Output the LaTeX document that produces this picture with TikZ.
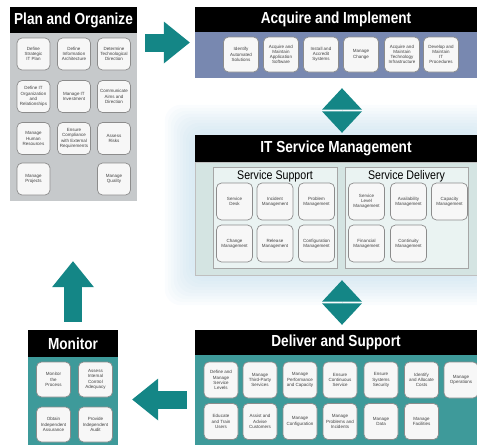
\documentclass[tikz,border=0pt]{standalone}
\usepackage{fontspec}
\setmainfont{Liberation Sans}
\newfontfamily\headfont[FakeStretch=0.85]{Liberation Sans}
\usetikzlibrary{arrows.meta,positioning,fit,calc,backgrounds}
\definecolor{flow}{RGB}{20,134,134}
\definecolor{slate}{RGB}{120,136,176}
\definecolor{dsteal}{RGB}{62,154,154}
\definecolor{pogray}{RGB}{198,201,203}
\definecolor{itsmbg}{RGB}{212,228,226}
\definecolor{itsmin}{RGB}{234,243,242}
\definecolor{glow}{RGB}{175,210,230}
\tikzset{
  head/.style={fill=black,text=white,font=\headfont\bfseries\fontsize{16}{16}\selectfont,inner sep=0pt},
  body/.style={inner sep=0pt,outer sep=0pt},
  task/.style={draw=black!45,fill=white!94!gray,rounded corners=5pt,line width=0.7pt,align=center,font=\fontsize{4.5}{5.2}\selectfont,text=black!75,inner sep=0.5pt},
  sub/.style={font=\headfont\fontsize{12.5}{12.5}\selectfont,inner sep=1pt},
  bigarr/.style={draw=flow,line width=18pt,-{Triangle[length=26pt,width=42pt,line width=0pt]}},
  dblarr/.style={draw=flow,line width=0.01pt,{Triangle[length=21.5pt,width=40pt,line width=0pt]}-{Triangle[length=21.5pt,width=40pt,line width=0pt]}}
}
\begin{document}
\begin{tikzpicture}[x=1pt,y=-1pt,
 whole/.style={inner sep=0pt,outer sep=0pt}]
\useasboundingbox (0,0) rectangle (477,445);
% plan and organize
\node[head,minimum width=127pt,minimum height=26pt] (poT) at (73.5,20) {Plan and Organize};
\node[body,fill=pogray,minimum width=127pt,minimum height=168pt,below=0pt of poT] (po) {};
\foreach \n/\x/\y/\t in {1/33.5/54/Define\\Strategic\\IT Plan, 2/74/54/Define\\Information\\Architecture, 3/114/54/Determine\\Technological\\Direction,
  4/33.5/96.5/Define IT\\Organization\\and\\Relationships, 5/74/96.5/Manage IT\\Investment, 6/114/96.5/Communicate\\Aims and\\Direction,
  7/33.5/138.5/Manage\\Human\\Resources, 8/74/138.5/Ensure\\Compliance\\with External\\Requirements, 9/114/138.5/Assess\\Risks,
  10/33.5/179/Manage\\Projects, 11/114/179/Manage\\Quality}
  \node[task,minimum width=33pt,minimum height=32pt] (p\n) at (\x,\y) {\t};
% acquire and implement
\node[head,minimum width=282pt,minimum height=25pt] (aiT) at (336,19.5) {Acquire and Implement};
\node[body,fill=slate,minimum width=282pt,minimum height=46pt,below=0pt of aiT] (ai) {};
\foreach \n/\x/\t in {1/241/Identify\\Automated\\Solutions, 2/281/Acquire and\\Maintain\\Application\\Software, 3/321/Install and\\Accredit\\Systems,
  4/361/Manage\\Change, 5/402/Acquire and\\Maintain\\Technology\\Infrastructure, 6/441/Develop and\\Maintain\\IT\\Procedures}
  \node[task,minimum width=35pt,minimum height=35pt] (a\n) at (\x,54.5) {\t};
% it service management
\node[head,minimum width=282pt,minimum height=27pt] (itT) at (336,148.5) {IT Service Management};
\node[body,fill=itsmbg,draw=black!25,minimum width=282pt,minimum height=113pt,below=0pt of itT] (it) {};
\node[body,draw=black!35,fill=itsmin,minimum width=124pt,minimum height=101pt] (ss) at (275,217.5) {};
\node[body,draw=black!35,fill=itsmin,minimum width=123pt,minimum height=101pt] (sd) at (406.5,217.5) {};
\node[sub,below=2pt of ss.north] (ssL) {Service Support};
\node[sub,below=2pt of sd.north] (sdL) {Service Delivery};
\foreach \n/\x/\y/\t in {1/234.5/201.5/Service\\Desk, 2/275/201.5/Incident\\Management, 3/316.5/201.5/Problem\\Management,
  4/234.5/243.5/Change\\Management, 5/275/243.5/Release\\Management, 6/316.5/243.5/Configuration\\Management,
  7/366.5/201.5/Service\\Level\\Management, 8/408.5/201.5/Availability\\Management, 9/449.5/201.5/Capacity\\Management,
  10/366.5/243.5/Financial\\Management, 11/408.5/243.5/Continuity\\Management}
  \node[task,minimum width=36pt,minimum height=37pt] (s\n) at (\x,\y) {\t};
% deliver and support
\node[head,minimum width=282pt,minimum height=25pt] (dsT) at (336,342.5) {Deliver and Support};
\node[body,fill=dsteal,minimum width=282pt,minimum height=90pt,below=0pt of dsT] (ds) {};
\foreach \n/\x/\y/\t in {1/221/380/Define and\\Manage\\Service\\Levels, 2/260/380/Manage\\Third-Party\\Services, 3/300/380/Manage\\Performance\\and Capacity,
  4/340/380/Ensure\\Continuous\\Service, 5/381/380/Ensure\\Systems\\Security, 6/421.5/380/Identify\\and Allocate\\Costs, 7/461/380/Manage\\Operations,
  8/221/421.5/Educate\\and Train\\Users, 9/260/421.5/Assist and\\Advise\\Customers, 10/300/421.5/Manage\\Configuration,
  11/340/421.5/Manage\\Problems and\\Incidents, 12/381/421.5/Manage\\Data, 13/421.5/421.5/Manage\\Facilities}
  \node[task,minimum width=34pt,minimum height=36pt] (d\n) at (\x,\y) {\t};
% monitor
\node[head,minimum width=90pt,minimum height=27pt] (moT) at (73,343.5) {Monitor};
\node[body,fill=dsteal,minimum width=90pt,minimum height=88pt,below=0pt of moT] (mo) {};
\foreach \n/\x/\y/\t in {1/53.5/379.5/Monitor\\the\\Process, 2/95.5/379.5/Assess\\Internal\\Control\\Adequacy,
  3/53.5/424.5/Obtain\\Independent\\Assurance, 4/95.5/424.5/Provide\\Independent\\Audit}
  \node[task,minimum width=34pt,minimum height=35pt] (m\n) at (\x,\y) {\t};
% whole panels
\foreach \l in {po,ai,it,ds,mo} \node[whole,fit=(\l T)(\l)] (\l P) {};
\begin{scope}[on background layer]
\foreach \d in {3,6,...,30}
  \fill[glow,opacity=0.06,rounded corners=16pt] ($(itT.north west)+(-\d,-\d)$) rectangle ($(it.south east)+(\d,\d)$);
\end{scope}
% flow arrows
\draw[bigarr] ($(poP.east |- aiP.west)+(8,0)$) -- ($(aiP.west)+(-5,0)$);
\draw[dblarr] ($(aiP.south)+(6,10)$) -- ($(itP.north)+(6,-2)$);
\draw[dblarr] ($(itP.south)+(6,5)$) -- ($(dsP.north)+(6,-5)$);
\draw[bigarr] ($(dsP.west)+(-8,12)$) -- ($(moP.east |- dsP.west)+(14,12)$);
\draw[bigarr] ($(moP.north)+(0,-8)$) -- ($(moP.north |- poP.south)+(0,60)$);
\end{tikzpicture}
\end{document}
